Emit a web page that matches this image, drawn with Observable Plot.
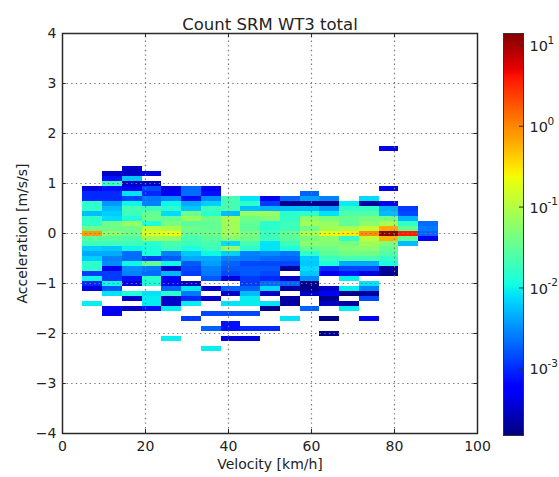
<!DOCTYPE html>
<html>
<head>
<meta charset="utf-8">
<script src="https://cdn.jsdelivr.net/npm/d3@7"></script>
<script src="https://cdn.jsdelivr.net/npm/@observablehq/plot@0.6"></script>
<style>
html,body{margin:0;padding:0;background:#fff;}
#wrap{position:relative;width:559px;height:477px;overflow:hidden;}
#wrap svg{position:absolute;left:0;top:0;background:transparent;}
</style>
</head>
<body>
<div id="wrap"></div>
<script>
const _ = null;
const velocityEdges = [4.9,9.66,14.42,19.18,23.94,28.7,33.46,38.22,42.98,47.74,52.5,57.26,62.02,66.78,71.54,76.3,81.06,85.82,90.58];
const accelCenters = [1.7,1.3,1.2,1.1,1.0,0.9,0.8,0.7,0.6,0.5,0.4,0.3,0.2,0.1,0,-0.1,-0.2,-0.3,-0.4,-0.5,-0.6,-0.7,-0.8,-0.9,-1.0,-1.1,-1.2,-1.3,-1.4,-1.5,-1.6,-1.7,-1.8,-1.9,-2.0,-2.1,-2.3];
const r_p17 = [_,_,_,_,_,_,_,_,_,_,_,_,_,_,_,.00047,_,_];
const r_p13 = [_,_,.00031,_,_,_,_,_,_,_,_,_,_,_,_,_,_,_];
const r_p12 = [_,.00031,.00031,.00039,_,_,_,_,_,_,_,_,_,_,_,_,_,_];
const r_p11 = [_,.00074,.0059,_,_,_,_,_,_,_,_,_,_,_,_,_,_,_];
const r_p10 = [_,.019,.00031,.00031,_,_,_,_,_,_,_,_,_,_,_,_,_,_];
const r_p09 = [.00039,.00074,.00047,.0014,.00039,.0021,.00047,_,_,_,_,_,_,_,_,.00047,_,_];
const r_p08 = [.00098,.00098,.0081,.00098,.00047,.0021,.00074,_,_,_,_,.0019,_,_,_,_,_,_];
const r_p07 = [.00098,.00098,.0014,.0024,.003,.00074,.003,.022,.0081,.00047,.0019,.0037,.0027,_,.0073,_,_,_];
const r_p06 = [.015,.0034,.01,.0027,.01,.0042,.0065,.022,.015,.0012,.00017,.00017,.00017,.0091,.00021,.00047,_,_];
const r_p05 = [.016,.0052,.022,.019,.015,.0059,.019,.022,.0052,.0047,.0052,.0052,.0034,.016,.016,.0042,.0012,_];
const r_p04 = [.0052,.0065,.019,.032,.0073,.038,.015,.0052,.066,.066,.015,.016,.0081,.025,.025,.0052,.0014,_];
const r_p03 = [.015,.0073,.012,.038,.032,.066,.038,.087,.038,.05,.016,.057,.044,.032,.044,.038,.0047,_];
const r_p02 = [.016,.038,.066,.012,.044,.029,.032,.076,.032,.015,.019,.076,.066,.032,.057,.087,.016,.0021];
const r_p01 = [.038,.038,.038,.115,.087,.038,.032,.076,.029,.015,.019,.038,.076,.087,.13,.65,.032,.0024];
const r_000 = [.75,.057,.038,.17,.2,.032,.038,.076,.044,.019,.032,.087,.2,.29,.89,12.6,3.5,.0019];
const r_m01 = [.029,.029,.025,.076,.066,.022,.029,.05,.038,.019,.029,.044,.057,.016,.115,.58,.032,.00047];
const r_m02 = [.019,.019,.019,.015,.022,.019,.022,.0073,.022,.0081,.019,.057,.05,.044,.076,.05,.0052,_];
const r_m03 = [.0065,.0059,.01,.012,.019,.012,.019,.066,.015,.0081,.012,.032,.038,.05,.057,.032,_,_];
const r_m04 = [.0042,.0042,.0021,.012,.0027,.0059,.01,.0065,.0027,.003,.0024,.015,.029,.038,.038,.025,_,_];
const r_m05 = [.0065,.0027,.0021,.0012,.0017,.0042,.0042,.0027,.0024,.0021,.0019,.0065,.019,.022,.022,.016,_,_];
const r_m06 = [.015,.003,.01,.032,.01,.0017,.0037,.0019,.0014,.0014,.0014,.0059,.012,.0042,.0042,.012,_,_];
const r_m07 = [.015,.00047,.003,.0024,.00031,.0014,.0027,.0017,.0017,.0017,.00021,.0073,.00098,.0014,.0014,.00021,_,_];
const r_m08 = [.0012,.0012,.0027,.0021,.0047,.0012,.0024,.0014,.0017,.0014,_,.0059,.00047,.00074,.00039,.00017,_,_];
const r_m09 = [.01,.0012,.00074,.015,.00047,_,.0017,.00039,.0012,.00098,.00031,.003,_,.0091,_,_,_,_];
const r_m10 = [.00098,.01,.00039,.012,.00047,.00031,_,_,.0012,.0021,.0019,.00017,_,_,.0081,_,_,_];
const r_m11 = [.00039,.0017,_,_,.0019,.0081,.00031,.0019,.0019,.0073,.00021,.00017,.00031,.0091,.0027,_,_,_];
const r_m12 = [_,.0081,.012,.0081,.015,.0024,_,.00031,.0052,.00031,_,.00031,.00047,.00017,.00021,_,_,_];
const r_m13 = [_,_,.00031,.0091,.00031,.00098,.00031,_,.0091,_,.00021,_,.00017,_,.0014,_,_,_];
const r_m14 = [.0091,_,_,.0091,.00031,.0091,_,.0081,.0091,.0081,.00021,_,.00031,.00021,_,_,_,_];
const r_m15 = [_,.00047,.00031,.00074,.0091,_,_,_,_,.00017,_,.0019,_,.0091,_,_,_,_];
const r_m16 = [_,.00047,_,_,_,_,.0014,.0014,.0014,_,_,_,_,_,_,_,_,_];
const r_m17 = [_,_,_,_,_,.0012,_,_,_,_,.0081,_,.00017,_,.00047,_,_,_];
const r_m18 = [_,_,_,_,_,_,_,.00074,_,_,_,_,_,_,_,_,_,_];
const r_m19 = [_,_,_,_,_,_,.0019,.00074,.00098,.00098,_,_,_,_,_,_,_,_];
const r_m20 = [_,_,_,_,_,_,_,_,_,_,_,_,.00017,_,_,_,_,_];
const r_m21 = [_,_,_,_,.0091,_,_,.00039,.00039,_,_,_,_,_,_,_,_,_];
const r_m23 = [_,_,_,_,_,_,.0091,_,_,_,_,_,_,_,_,_,_,_];
const rowValues = [r_p17,r_p13,r_p12,r_p11,r_p10,r_p09,r_p08,r_p07,r_p06,r_p05,r_p04,r_p03,r_p02,r_p01,r_000,r_m01,r_m02,r_m03,r_m04,r_m05,r_m06,r_m07,r_m08,r_m09,r_m10,r_m11,r_m12,r_m13,r_m14,r_m15,r_m16,r_m17,r_m18,r_m19,r_m20,r_m21,r_m23];
const xTicks = [0,20,40,60,80,100];
const yTicks = [-4,-3,-2,-1,0,1,2,3,4];
const barTicks = [0.001,0.01,0.1,1,10];
const barBase = ["10","10","10","10","10"];
const barExponents = ["-3","-2","-1","0","1"];
const colorDomain = [1.5e-4,14];

const cells = [];
rowValues.forEach((row,i)=>row.forEach((v,j)=>{
  if (v!==null) cells.push({x1:velocityEdges[j],x2:velocityEdges[j+1],y1:accelCenters[i]-0.05,y2:accelCenters[i]+0.05,v});
}));

const ch = (pts)=>d3.scaleLinear().domain(pts.map(p=>p[0])).range(pts.map(p=>p[1])).clamp(true);
const jr = ch([[0,0],[.35,0],[.66,1],[.89,1],[1,.5]]);
const jg = ch([[0,0],[.125,0],[.375,1],[.64,1],[.91,0],[1,0]]);
const jb = ch([[0,.5],[.11,1],[.34,1],[.65,0],[1,0]]);
const jet = t=>`rgb(${Math.round(255*jr(t))},${Math.round(255*jg(t))},${Math.round(255*jb(t))})`;
const color = {type:"log",domain:colorDomain,range:[0,1],interpolate:()=>jet};
const FONT = "'DejaVu Sans', sans-serif";
const dots = {stroke:"#7a7a7a",strokeWidth:1.2,strokeDasharray:"1.4,3.2"};
const ink = "#2a2a2a";

const main = Plot.plot({
  width:559,height:477,
  marginLeft:62,marginRight:82,marginTop:33,marginBottom:44,
  style:{fontFamily:FONT,background:"transparent",overflow:"visible"},
  x:{domain:[0,100],label:null},
  y:{domain:[-4,4],label:null},
  color,
  marks:[
    Plot.rect(cells,{x1:"x1",x2:"x2",y1:"y1",y2:"y2",fill:"v",shapeRendering:"crispEdges"}),
    Plot.ruleX(xTicks.slice(1,-1),{...dots,y1:-4,y2:4}),
    Plot.ruleY(yTicks.slice(1,-1),{...dots,x1:0,x2:100}),
    Plot.ruleX(xTicks,{y1:-4,y2:-3.92,stroke:ink}),
    Plot.ruleX(xTicks,{y1:3.92,y2:4,stroke:ink}),
    Plot.ruleY(yTicks,{x1:0,x2:0.9,stroke:ink}),
    Plot.ruleY(yTicks,{x1:99.1,x2:100,stroke:ink}),
    Plot.frame({stroke:ink,strokeWidth:1.5}),
    Plot.axisX(xTicks,{tickSize:0,tickPadding:8,fontSize:14,fill:"#222",label:null}),
    Plot.axisY(yTicks,{tickSize:0,tickPadding:6,fontSize:14,fill:"#222",label:null,tickFormat:d=>d<0?"\u2212"+(-d):String(d)}),
    Plot.text(["Velocity [km/h]"],{frameAnchor:"bottom",dy:35,fontSize:14,fill:"#222"}),
    Plot.text(["Acceleration [m/s/s]"],{frameAnchor:"left",dx:-40,rotate:-90,textAnchor:"middle",fontSize:14,fill:"#222"}),
    Plot.text(["Count SRM WT3 total"],{frameAnchor:"top",dy:-15,fontSize:16.5,fill:"#222"})
  ]
});

const barEdges = d3.range(0,201).map(i=>Math.pow(10,Math.log10(colorDomain[0])+(Math.log10(colorDomain[1])-Math.log10(colorDomain[0]))*i/200));
const barRects = barEdges.slice(0,-1).map((e,i)=>({y1:e,y2:barEdges[i+1],v:Math.sqrt(e*barEdges[i+1])}));
const bar = Plot.plot({
  width:559,height:477,
  marginLeft:503,marginRight:36,marginTop:33,marginBottom:42,
  style:{fontFamily:FONT,background:"transparent",overflow:"visible"},
  x:{domain:[0,1],axis:null},
  y:{type:"log",domain:colorDomain,axis:null},
  color,
  marks:[
    Plot.rect(barRects,{x1:0,x2:1,y1:"y1",y2:"y2",fill:"v",shapeRendering:"crispEdges"}),
    Plot.ruleY(barTicks,{x1:0.8,x2:1,stroke:ink}),
    Plot.frame({stroke:"#333",strokeWidth:1}),
    Plot.text(barTicks,{x:1,y:d=>d,text:(d,i)=>barBase[i],textAnchor:"start",dx:6,dy:1,fontSize:14.5,fill:"#222"}),
    Plot.text(barTicks,{x:1,y:d=>d,text:(d,i)=>barExponents[i],textAnchor:"start",dx:24,dy:-5,fontSize:10.5,fill:"#222"})
  ]
});
const wrap=document.getElementById("wrap");
wrap.append(main,bar);
</script>
</body>
</html>
